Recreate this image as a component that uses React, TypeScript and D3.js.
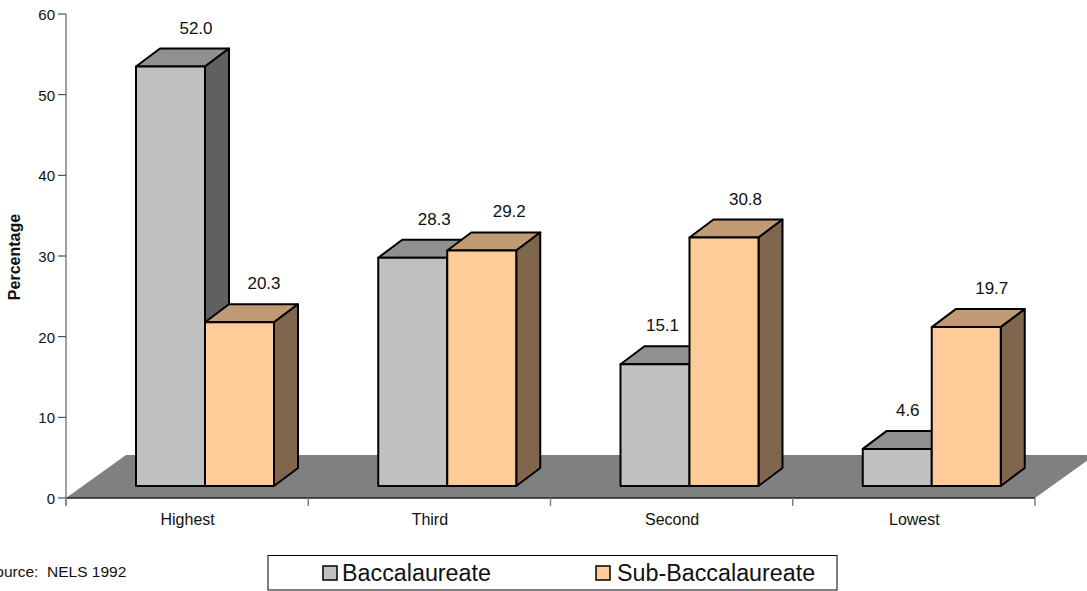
import * as d3 from "d3";

const categories = ["Highest", "Third", "Second", "Lowest"];
const baccalaureate = [52.0, 28.3, 15.1, 4.6];
const subBaccalaureate = [20.3, 29.2, 30.8, 19.7];
const yTicks = [0, 10, 20, 30, 40, 50, 60];
const seriesNames = ["Baccalaureate", "Sub-Baccalaureate"];
const sourceNote = "Source:  NELS 1992";

// Horizontal placement of each value label, measured from its bar's left edge.
const baccalaureateLabelShift = [60, 56, 42, 45];
const subBaccalaureateLabelShift = [59, 62, 56, 60];

const FONT = "'Liberation Sans', Arial, sans-serif";
const DEPTH_X = 24;
const DEPTH_Y = 18;
const BASE_LIFT = 12;

const palettes = [
  { front: "#c0c0c0", top: "#909090", side: "#606060" },
  { front: "#ffcc99", top: "#c09a73", side: "#80664d" },
];

const y = d3.scaleLinear().domain([0, 60]).range([498, 14]);
const x = d3.scaleBand<string>().domain(categories).range([66, 1035]);
const unit = y(0) - y(1);

const poly = (pts: [number, number][]) => d3.line()(pts) + "Z";

function Bar({ left, width, value, colors }: { left: number; width: number; value: number; colors: typeof palettes[0] }) {
  const bottom = y(0) - BASE_LIFT;
  const top = bottom - value * unit;
  const right = left + width;
  const stroke = { stroke: "#000", strokeWidth: 2, strokeLinejoin: "round" as const };
  return (
    <g>
      <path
        d={poly([[left, top], [left + DEPTH_X, top - DEPTH_Y], [right + DEPTH_X, top - DEPTH_Y], [right, top]])}
        fill={colors.top}
        {...stroke}
      />
      <path
        d={poly([[right, top], [right + DEPTH_X, top - DEPTH_Y], [right + DEPTH_X, bottom - DEPTH_Y], [right, bottom]])}
        fill={colors.side}
        {...stroke}
      />
      <rect x={left} y={top} width={width} height={bottom - top} fill={colors.front} {...stroke} />
    </g>
  );
}

export default function App() {
  const barWidth = 69;
  const barsOffset = 70;
  return (
    <svg width={1087} height={591} style={{ position: "absolute", left: 0, top: 0, background: "#fff" }} fontFamily={FONT}>
      {/* floor of the 3D plot */}
      <path d={poly([[66, 498], [126, 455], [1095, 455], [1035, 498]])} fill="#808080" />
      <line x1={66} x2={1035} y1={498} y2={498} stroke="#222" strokeWidth={1.5} />

      {/* value axis */}
      <line x1={66} x2={66} y1={y(60)} y2={y(0) + 8} stroke="#808080" strokeWidth={1.5} />
      {yTicks.map((t) => (
        <g key={t}>
          <line x1={58} x2={66} y1={y(t)} y2={y(t)} stroke="#333" strokeWidth={1} />
          <text x={55} y={y(t) + 6} textAnchor="end" fontSize={15} fill="#111">{t}</text>
        </g>
      ))}
      <text
        transform="translate(20,257) rotate(-90)"
        textAnchor="middle"
        fontSize={16}
        fontWeight="bold"
        fill="#111"
      >Percentage</text>

      {/* category axis */}
      {[...categories.map((c) => x(c) as number), 1035].map((p) => (
        <line key={p} x1={p} x2={p} y1={498} y2={506} stroke="#808080" strokeWidth={1.5} />
      ))}
      {categories.map((c) => (
        <text key={c} x={(x(c) as number) + x.bandwidth() / 2 + 0.5} y={525} textAnchor="middle" fontSize={16} fill="#111">{c}</text>
      ))}

      {/* bars */}
      {categories.map((c, i) => {
        const left = (x(c) as number) + barsOffset;
        return (
          <g key={c}>
            <Bar left={left} width={barWidth} value={baccalaureate[i]} colors={palettes[0]} />
            <Bar left={left + barWidth} width={barWidth} value={subBaccalaureate[i]} colors={palettes[1]} />
          </g>
        );
      })}

      {/* value labels */}
      {categories.map((c, i) => {
        const left = (x(c) as number) + barsOffset;
        const bottom = y(0) - BASE_LIFT;
        return (
          <g key={c} fontSize={17} fill="#111">
            <text x={left + baccalaureateLabelShift[i]} y={bottom - baccalaureate[i] * unit - 33} textAnchor="middle">{baccalaureate[i].toFixed(1)}</text>
            <text x={left + barWidth + subBaccalaureateLabelShift[i]} y={bottom - subBaccalaureate[i] * unit - 33} textAnchor="middle">{subBaccalaureate[i].toFixed(1)}</text>
          </g>
        );
      })}

      <text x={-15} y={577} fontSize={15.5} fill="#111" style={{ whiteSpace: "pre" }}>{sourceNote}</text>

      {/* legend */}
      <rect x={268} y={555.5} width={569} height={34.5} fill="#fff" stroke="#000" strokeWidth={1} />
      {seriesNames.map((s, i) => {
        const lx = [323, 596][i];
        const textX = [342, 617][i];
        return (
          <g key={s}>
            <rect x={lx} y={566} width={14} height={14} fill={palettes[i].front} stroke="#000" strokeWidth={1.5} />
            <text x={textX} y={581} fontSize={23.3} fill="#111">{s}</text>
          </g>
        );
      })}
    </svg>
  );
}
